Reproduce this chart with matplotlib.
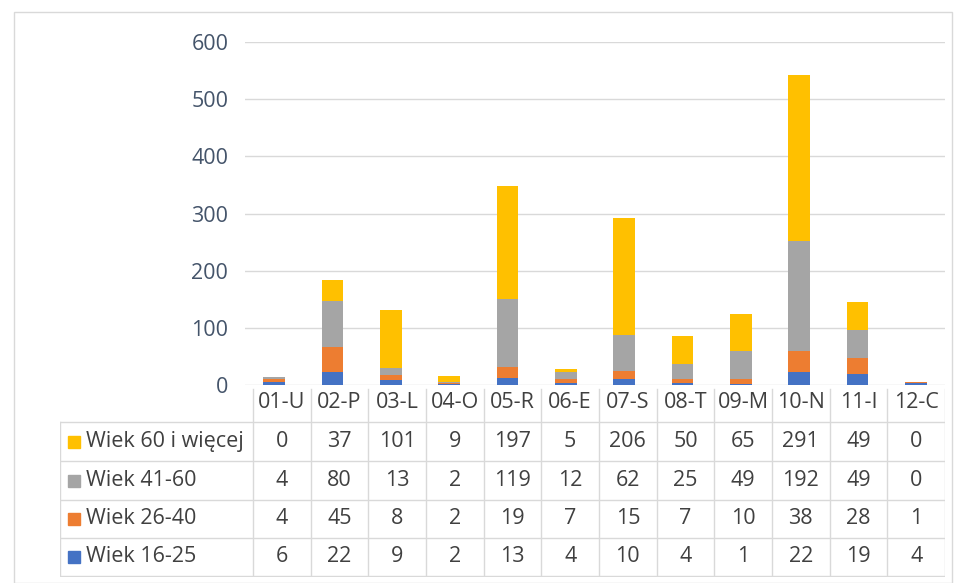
import matplotlib.pyplot as plt
from matplotlib.patches import Rectangle
import numpy as np

plt.rcParams['font.family'] = ['Open Sans', 'DejaVu Sans']

categories = ['01-U', '02-P', '03-L', '04-O', '05-R', '06-E', '07-S', '08-T', '09-M', '10-N', '11-I', '12-C']
series_names = ['Wiek 60 i więcej', 'Wiek 41-60', 'Wiek 26-40', 'Wiek 16-25']
wiek_60 = [0, 37, 101, 9, 197, 5, 206, 50, 65, 291, 49, 0]
wiek_41_60 = [4, 80, 13, 2, 119, 12, 62, 25, 49, 192, 49, 0]
wiek_26_40 = [4, 45, 8, 2, 19, 7, 15, 7, 10, 38, 28, 1]
wiek_16_25 = [6, 22, 9, 2, 13, 4, 10, 4, 1, 22, 19, 4]
col_labels = ['01-U', '02-P', '03-L', '04-O', '05-R', '06-E', '07-S', '08-T', '09-M', '10-N', '11-I', '12-C']
yticks = [0, 100, 200, 300, 400, 500, 600]

colors = {'Wiek 60 i więcej': '#FFC000', 'Wiek 41-60': '#A5A5A5',
          'Wiek 26-40': '#ED7D31', 'Wiek 16-25': '#4472C4'}
values = {'Wiek 60 i więcej': wiek_60, 'Wiek 41-60': wiek_41_60,
          'Wiek 26-40': wiek_26_40, 'Wiek 16-25': wiek_16_25}

W, H = 963, 583
fig = plt.figure(figsize=(W / 100, H / 100), dpi=100)
FS = 15.5

# outer frame
fig.patches.append(Rectangle((14 / W, 0), (952 - 14) / W, (H - 12) / H, transform=fig.transFigure,
                             fill=False, edgecolor='#D9D9D9', linewidth=1))

def px(x0, y0, x1, y1):
    return [x0 / W, 1 - y1 / H, (x1 - x0) / W, (y1 - y0) / H]

ax = fig.add_axes(px(245, 42, 945, 385))
x = np.arange(len(categories))
bottom = np.zeros(len(categories))
for name in ['Wiek 16-25', 'Wiek 26-40', 'Wiek 41-60', 'Wiek 60 i więcej']:
    v = np.array(values[name])
    ax.bar(x, v, 0.37, bottom=bottom, color=colors[name], zorder=3)
    bottom += v

ax.set_xlim(-0.5, len(categories) - 0.5)
ax.set_ylim(0, 600)
ax.set_yticks(yticks)
ax.set_yticklabels([str(t) for t in yticks], fontsize=FS, color='#44546A')
ax.tick_params(axis='y', length=0, pad=12)
ax.set_xticks([])
ax.grid(axis='y', color='#D9D9D9', linewidth=1, zorder=0)
for s in ax.spines.values():
    s.set_visible(False)

# data table below
tab = fig.add_axes(px(60, 385, 945, 577))
colw = (945 - 253) / 12
x_left = -0.5 - (253 - 60) / colw
tab.set_xlim(x_left, 11.5)
tab.set_ylim(577, 385)
tab.axis('off')

line_c = '#D9D9D9'
row_edges = [422, 461, 500, 538, 576]
for k in range(13):
    tab.plot([k - 0.5, k - 0.5], [389, 576], color=line_c, linewidth=1)
for y in row_edges:
    tab.plot([x_left, 11.5], [y, y], color=line_c, linewidth=1)
tab.plot([x_left, x_left], [422, 576], color=line_c, linewidth=1)

txt_c = '#404040'
for i, lab in enumerate(col_labels):
    t = tab.text(i, 403, lab, ha='center', va='center', fontsize=FS, color=txt_c)
    clip = Rectangle((i - 0.5, 389), 1, 33, transform=tab.transData, visible=False)
    tab.add_patch(clip)
    t.set_clip_path(clip)

for r, name in enumerate(series_names):
    yc = (row_edges[r] + row_edges[r + 1]) / 2
    tab.add_patch(Rectangle((x_left + 8 / colw, yc - 6), 12 / colw, 12,
                            color=colors[name]))
    tab.text(x_left + 26 / colw, yc, name, ha='left', va='center', fontsize=FS, color=txt_c)
    for i, v in enumerate(values[name]):
        tab.text(i, yc, str(v), ha='center', va='center', fontsize=FS, color=txt_c)

fig.savefig('out.png', dpi=100)
